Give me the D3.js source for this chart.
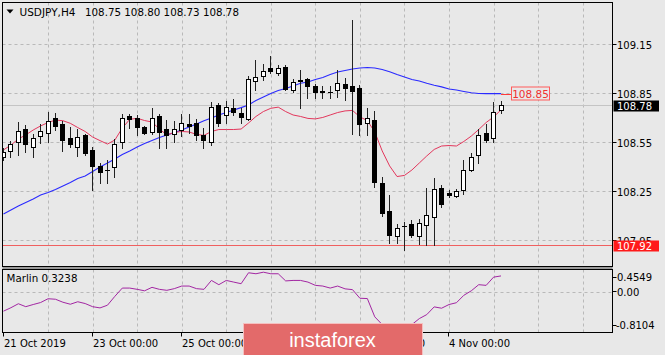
<!DOCTYPE html>
<html><head><meta charset="utf-8">
<script src="https://cdn.jsdelivr.net/npm/d3@7"></script>
<style>html,body{margin:0;padding:0;background:#e8e8e8;overflow:hidden}</style>
</head><body>
<svg id="c" width="665" height="355"></svg>
<script>
// ---------- data ----------
const symbol = "USDJPY,H4";
const titleValues = "108.75 108.80 108.73 108.78";
const indicatorName = "Marlin 0.3238";
const timeTickBars = [0, 12, 24, 36, 48, 60];
const timeTickLabels = ["21 Oct 2019", "23 Oct 00:00", "25 Oct 00:00", "29 Oct 00:00", "31 Oct 00:00", "4 Nov 00:00"];
const priceTicks = [109.15, 108.85, 108.55, 108.25, 107.95];
const marlinTicks = [0.4549, 0.00, -0.8104];
const marlinTickLabels = ["0.4549", "0.00", "-0.8104"];
const lastPrice = 108.78;
const levelPrice = 107.92;
const maLabelValue = 108.85;

const open = [108.458,108.498,108.552,108.631,108.521,108.588,108.607,108.696,108.659,108.579,
108.523,108.592,108.503,108.402,108.382,108.396,108.550,108.711,108.699,108.642,
108.615,108.711,108.631,108.598,108.625,108.660,108.668,108.592,108.550,108.778,
108.720,108.758,108.727,108.693,108.927,108.956,109.003,108.972,109.013,108.870,
108.931,108.936,108.895,108.862,108.858,108.870,108.907,108.895,108.882,108.666,
108.686,108.299,108.129,107.976,108.040,108.050,107.976,108.046,108.094,108.268,
108.238,108.221,108.255,108.383,108.469,108.609,108.578,108.75];
const high = [108.515,108.558,108.674,108.656,108.598,108.662,108.735,108.729,108.680,108.644,
108.629,108.601,108.524,108.423,108.444,108.567,108.726,108.723,108.717,108.650,
108.760,108.723,108.686,108.680,108.721,108.723,108.690,108.637,108.794,108.790,
108.803,108.815,108.758,108.953,109.054,109.032,109.080,109.023,109.023,108.937,
108.993,108.942,108.907,108.892,108.895,108.993,108.944,109.296,108.901,108.758,
108.742,108.339,108.227,108.050,108.062,108.074,108.080,108.268,108.329,108.288,
108.255,108.264,108.444,108.483,108.634,108.662,108.794,108.80];
const low = [108.441,108.458,108.472,108.490,108.457,108.546,108.552,108.625,108.497,108.521,
108.466,108.472,108.258,108.301,108.301,108.340,108.515,108.637,108.595,108.601,
108.601,108.515,108.515,108.552,108.588,108.607,108.564,108.515,108.533,108.650,
108.668,108.717,108.668,108.686,108.870,108.931,108.974,108.962,108.870,108.858,
108.760,108.821,108.821,108.823,108.821,108.827,108.809,108.601,108.595,108.595,
108.273,108.099,107.931,107.933,107.890,107.970,107.927,107.921,107.921,108.156,
108.215,108.215,108.233,108.374,108.425,108.552,108.549,108.73];
const close = [108.492,108.539,108.616,108.539,108.579,108.616,108.683,108.647,108.564,108.538,
108.581,108.483,108.405,108.366,108.378,108.538,108.697,108.694,108.644,108.605,
108.697,108.615,108.592,108.631,108.670,108.652,108.595,108.564,108.763,108.668,
108.763,108.734,108.707,108.937,108.952,108.988,108.987,109.003,108.876,108.919,
108.928,108.896,108.856,108.859,108.855,108.915,108.881,108.864,108.662,108.697,
108.304,108.114,107.985,108.023,108.037,107.982,108.054,108.105,108.262,108.172,
108.224,108.249,108.378,108.458,108.595,108.561,108.737,108.78];
const maFast = [108.503,108.533,108.570,108.595,108.625,108.650,108.671,108.686,108.682,108.666,
108.640,108.616,108.582,108.560,108.539,108.564,108.637,108.690,108.697,108.683,
108.674,108.631,108.595,108.610,108.616,108.613,108.598,108.592,108.616,108.628,
108.628,108.628,108.631,108.668,108.708,108.738,108.758,108.765,108.738,108.717,
108.708,108.696,108.693,108.702,108.717,108.732,108.742,108.745,108.705,108.683,
108.613,108.497,108.405,108.340,108.347,108.380,108.423,108.466,108.506,108.527,
108.530,108.527,108.555,108.588,108.628,108.671,108.705,108.748];
const maSlow = [108.111,108.135,108.160,108.181,108.203,108.227,108.242,108.261,108.282,108.304,
108.328,108.343,108.371,108.399,108.423,108.448,108.475,108.497,108.521,108.543,
108.561,108.579,108.595,108.610,108.625,108.644,108.662,108.682,108.699,108.717,
108.732,108.748,108.762,108.778,108.806,108.827,108.849,108.867,108.879,108.895,
108.911,108.919,108.934,108.947,108.965,108.980,108.990,108.999,109.005,109.008,
109.005,108.996,108.982,108.965,108.950,108.934,108.925,108.911,108.899,108.889,
108.876,108.870,108.861,108.853,108.849,108.848,108.848,108.848];
const marlin = [-0.395,-0.325,-0.244,-0.304,-0.260,-0.219,-0.142,-0.152,-0.213,-0.254,
-0.203,-0.240,-0.304,-0.329,-0.274,-0.092,0.076,0.076,0.050,0.020,
0.091,0.050,0.030,0.064,0.117,0.117,0.064,0.050,0.232,0.145,
0.232,0.198,0.165,0.388,0.368,0.400,0.368,0.368,0.222,0.232,
0.232,0.198,0.131,0.117,0.076,0.117,0.060,0.044,-0.132,-0.138,
-0.511,-0.669,-0.740,-0.780,-0.8104,-0.669,-0.547,-0.466,-0.308,-0.335,
-0.260,-0.223,-0.071,0.020,0.145,0.131,0.299,0.3238];

// ---------- layout ----------
const svg = d3.select('#c');
const F = "'DejaVu Sans', sans-serif";
const L = 2.5, R = 612.5, T = 2.5, B = 266.5, ST = 269.5, SB = 332.5;
const bg = '#e8e8e8';
const x = d3.scaleLinear().domain([0, 67]).range([3.5, 501]);
const y = d3.scaleLinear().domain([107.789, 109.406]).range([B, T]);
const ym = d3.scaleLinear().domain([-0.8104, 0.4549]).range([331.5, 269.5]);
const px = v => Math.round(v) + 0.5;

svg.append('rect').attr('width', 665).attr('height', 355).attr('fill', bg);
const defs = svg.append('defs');
defs.append('clipPath').attr('id', 'cm').append('rect').attr('x', L).attr('y', T).attr('width', R - L).attr('height', B - T);
defs.append('clipPath').attr('id', 'cs').append('rect').attr('x', L).attr('y', ST).attr('width', R - L).attr('height', SB - ST);

const gMain = svg.append('g').attr('clip-path', 'url(#cm)');
const gSub = svg.append('g').attr('clip-path', 'url(#cs)');

// grid
const gridCol = '#b9b9b9';
const gridBars = d3.range(6, 84, 6);
gMain.selectAll('.hg').data(priceTicks).join('line')
  .attr('x1', L).attr('x2', R).attr('y1', d => px(y(d))).attr('y2', d => px(y(d)))
  .attr('stroke', gridCol).attr('stroke-dasharray', '3,3');
[gMain, gSub].forEach((g, k) => {
  g.selectAll('.vg').data(gridBars).join('line')
    .attr('x1', d => px(x(d))).attr('x2', d => px(x(d)))
    .attr('y1', k ? ST : T).attr('y2', k ? SB : B)
    .attr('stroke', gridCol).attr('stroke-dasharray', '3,3');
});
gSub.append('line').attr('x1', L).attr('x2', R).attr('y1', px(ym(0))).attr('y2', px(ym(0)))
  .attr('stroke', gridCol).attr('stroke-dasharray', '3,3');

// current price line & level line
gMain.append('line').attr('x1', L).attr('x2', R).attr('y1', px(y(lastPrice))).attr('y2', px(y(lastPrice)))
  .attr('stroke', '#c4c4c4');
gMain.append('line').attr('x1', L).attr('x2', R).attr('y1', px(y(levelPrice))).attr('y2', px(y(levelPrice)))
  .attr('stroke', '#f06060');

// moving averages
const idx = d3.range(open.length);
const lineMain = arr => d3.line().x(i => x(i)).y(i => y(arr[i]))(idx);
gMain.append('path').attr('d', lineMain(maSlow)).attr('fill', 'none').attr('stroke', '#2a2aff').attr('stroke-width', 1.1);
gMain.append('path').attr('d', lineMain(maFast)).attr('fill', 'none').attr('stroke', '#e2375c').attr('stroke-width', 1);

// candles
const cg = gMain.append('g');
idx.forEach(i => {
  const cx = Math.floor(x(i)) + 0.5;
  cg.append('line').attr('x1', cx).attr('x2', cx).attr('y1', px(y(high[i])) - 0.5).attr('y2', px(y(low[i])) + 0.5)
    .attr('stroke', '#222');
  const yt = px(y(Math.max(open[i], close[i])));
  const yb = px(y(Math.min(open[i], close[i])));
  const bull = close[i] > open[i];
  if (yb - yt < 1) {
    cg.append('line').attr('x1', cx - 2.5).attr('x2', cx + 2.5).attr('y1', yt).attr('y2', yt).attr('stroke', '#000');
  } else {
    cg.append('rect').attr('x', cx - 2).attr('y', yt).attr('width', 4).attr('height', yb - yt)
      .attr('fill', bull ? '#fff' : '#000').attr('stroke', '#000');
  }
});

// MA label callout
const lastI = idx.length - 1;
svg.append('line').attr('x1', x(lastI)).attr('x2', 511.5).attr('y1', px(y(maSlow[lastI]))).attr('y2', px(y(maSlow[lastI])))
  .attr('stroke', '#ff3a3a');
svg.append('rect').attr('x', 511.5).attr('y', px(y(maLabelValue)) - 6.5).attr('width', 38).attr('height', 13)
  .attr('fill', bg).attr('stroke', '#ff5a5a');
svg.append('text').attr('x', 530.5).attr('y', y(maLabelValue) + 4.3).attr('text-anchor', 'middle')
  .attr('font-family', F).attr('font-size', 10.5).attr('fill', '#f03030').text(maLabelValue.toFixed(2));

// marlin line
gSub.append('path').attr('d', d3.line().x(i => x(i)).y(i => ym(marlin[i]))(idx))
  .attr('fill', 'none').attr('stroke', '#a226a2').attr('stroke-width', 1);

// frames
const frame = svg.append('g').attr('fill', 'none').attr('stroke', '#000');
frame.append('rect').attr('x', L).attr('y', T).attr('width', R - L).attr('height', B - T);
svg.append('rect').attr('x', L).attr('y', B + 0.5).attr('width', R - L).attr('height', ST - B - 1).attr('fill', '#9a9a9a');
frame.append('rect').attr('x', L).attr('y', ST).attr('width', R - L).attr('height', SB - ST);

// price axis
const ax = svg.append('g').attr('font-family', F).attr('font-size', 10).attr('fill', '#000');
priceTicks.forEach(p => {
  const yy = px(y(p));
  ax.append('line').attr('x1', R).attr('x2', R + 4).attr('y1', yy).attr('y2', yy).attr('stroke', '#000');
  ax.append('text').attr('x', 617).attr('y', yy + 4).text(p.toFixed(2));
});
marlinTicks.forEach((v, k) => {
  const base = Math.max(281, Math.min(329, ym(v) + 4));
  ax.append('line').attr('x1', R).attr('x2', R + 4).attr('y1', px(base - 4.5)).attr('y2', px(base - 4.5)).attr('stroke', '#000');
  ax.append('text').attr('x', v < 0 ? 616 : 617).attr('y', base).text(marlinTickLabels[k]);
});

// price boxes
[[lastPrice, '#000'], [levelPrice, '#ff1a1a']].forEach(([p, c]) => {
  const yy = y(p);
  svg.append('rect').attr('x', 613.5).attr('y', Math.round(yy) - 4.5).attr('width', 45.5).attr('height', 11).attr('fill', c);
  svg.append('text').attr('x', 617).attr('y', Math.round(yy) + 5).attr('font-family', F).attr('font-size', 10)
    .attr('fill', '#fff').text(p.toFixed(2));
});

// time axis
timeTickBars.forEach((b, k) => {
  const xx = px(x(b)) - 1;
  ax.append('line').attr('x1', xx).attr('x2', xx).attr('y1', SB).attr('y2', SB + 4).attr('stroke', '#000');
  ax.append('text').attr('x', xx + 0.5).attr('y', 346.5).text(timeTickLabels[k]);
});

// titles
svg.append('path').attr('d', 'M6.5,9.5 L13.5,9.5 L10,13.5 Z').attr('fill', '#000');
svg.append('text').attr('x', 19.5).attr('y', 16).attr('font-family', F).attr('font-size', 10.5).text(symbol);
svg.append('text').attr('x', 85).attr('y', 16).attr('font-family', F).attr('font-size', 10.3).text(titleValues);
svg.append('text').attr('x', 6.5).attr('y', 282).attr('font-family', F).attr('font-size', 10.3).text(indicatorName);

// watermark logo
svg.append('rect').attr('x', 243.5).attr('y', 323.5).attr('width', 179).attr('height', 33)
  .attr('fill', '#e36a6a').attr('stroke', '#f5c0c0');
svg.append('text').attr('x', 332.5).attr('y', 347).attr('text-anchor', 'middle')
  .attr('font-family', "'Liberation Sans', Arial, sans-serif").attr('font-size', 20).attr('fill', '#fff').text('instaforex');
</script>
</body></html>
